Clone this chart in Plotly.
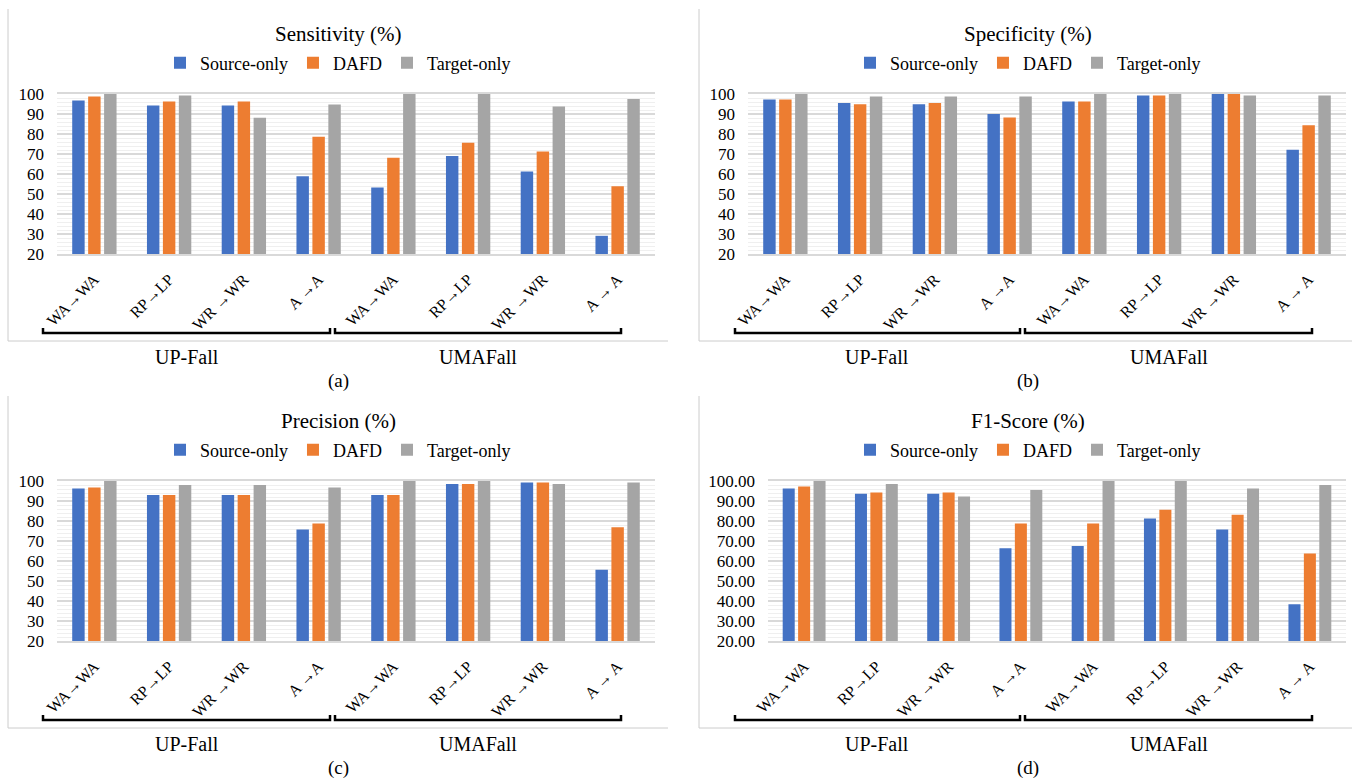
import plotly.graph_objects as go

# ---------------- data ----------------
tick_labels = ["WA→WA", "RP→LP", "WR →WR", "A →A",
               "WA→WA", "RP→LP", "WR →WR", "A → A"]
groups = ["UP-Fall", "UMAFall"]
series_names = ["Source-only", "DAFD", "Target-only"]

sens_source = [96.7, 94.3, 94.3, 58.9, 53.3, 69.0, 61.3, 29.1]
sens_dafd   = [98.7, 96.2, 96.2, 78.6, 68.1, 75.6, 71.3, 53.9]
sens_target = [100.0, 99.2, 88.1, 94.8, 100.0, 100.0, 93.7, 97.5]

spec_source = [97.3, 95.5, 94.9, 90.0, 96.2, 99.2, 100.0, 72.1]
spec_dafd   = [97.3, 94.9, 95.5, 88.2, 96.2, 99.2, 100.0, 84.4]
spec_target = [100.0, 98.7, 98.7, 98.7, 100.0, 100.0, 99.2, 99.2]

prec_source = [96.2, 93.0, 93.0, 75.7, 93.0, 98.5, 99.2, 55.6]
prec_dafd   = [96.8, 93.0, 93.0, 78.7, 93.0, 98.5, 99.2, 76.9]
prec_target = [100.0, 98.0, 98.0, 96.7, 100.0, 100.0, 98.5, 99.2]

f1_source = [96.2, 93.6, 93.6, 66.4, 67.5, 81.3, 75.7, 38.4]
f1_dafd   = [97.3, 94.3, 94.3, 78.7, 78.7, 85.6, 83.1, 63.8]
f1_target = [100.0, 98.5, 92.3, 95.5, 100.0, 100.0, 96.2, 98.0]

titles = ["Sensitivity (%)", "Specificity (%)", "Precision (%)", "F1-Score (%)"]
captions = ["(a)", "(b)", "(c)", "(d)"]
colors = ["#4472C4", "#ED7D31", "#A5A5A5"]

# ---------------- layout helpers ----------------
W, H = 1352, 783
FONT = "Times New Roman, Liberation Serif, Tinos, DejaVu Serif, serif"


def fx(px):
    return min(max(px / W, 0.0), 1.0)


def fy(py):
    return min(max(1 - py / H, 0.0), 1.0)


# panel geometry in pixels
panels = [
    dict(vals=(sens_source, sens_dafd, sens_target), x0=57, x1=655, dy=0,
         center=338, fl=8, fr=668, br=[(43, 330), (335, 621)], gl=[187, 478], fmt=None),
    dict(vals=(spec_source, spec_dafd, spec_target), x0=748, x1=1346, dy=0,
         center=1028, fl=699, fr=1352, br=[(735, 1020), (1025, 1312)], gl=[877, 1169], fmt=None),
    dict(vals=(prec_source, prec_dafd, prec_target), x0=57, x1=655, dy=387,
         center=338, fl=8, fr=668, br=[(43, 330), (335, 621)], gl=[187, 478], fmt=None),
    dict(vals=(f1_source, f1_dafd, f1_target), x0=768, x1=1346, dy=387,
         center=1028, fl=699, fr=1352, br=[(735, 1020), (1025, 1312)], gl=[877, 1169], fmt=".2f"),
]

fig = go.Figure()
xpos = list(range(len(tick_labels)))
shapes = []
annotations = []
layout = {}

for i, p in enumerate(panels):
    n = "" if i == 0 else str(i + 1)
    legend_name = "legend" if i == 0 else f"legend{i + 1}"
    for s, (name, vals) in enumerate(zip(series_names, p["vals"])):
        fig.add_trace(go.Bar(
            x=xpos, y=vals, name=name, marker=dict(color=colors[s], line=dict(width=0)),
            xaxis="x" + n, yaxis="y" + n, legend=legend_name,
        ))
    dy = p["dy"]
    ytop, ybot = 94 + dy, 254 + dy
    layout["xaxis" + n] = dict(
        domain=[fx(p["x0"]), fx(p["x1"])], anchor="y" + n,
        range=[-0.5, len(tick_labels) - 0.5],
        tickmode="array", tickvals=xpos, ticktext=tick_labels,
        tickangle=-45, tickfont=dict(family=FONT, size=16, color="#000"),
        showgrid=False, zeroline=False, showline=True, linecolor="#d9d9d9",
        linewidth=1.5, mirror=True, ticks="", automargin=False,
        ticklabelstandoff=8,
    )
    layout["yaxis" + n] = dict(
        domain=[fy(ybot), fy(ytop)], anchor="x" + n,
        range=[20, 100], dtick=10, tick0=0,
        tickformat=p["fmt"] if p["fmt"] else "d",
        tickfont=dict(family=FONT, size=17, color="#000"),
        showgrid=True, gridcolor="#d9d9d9", gridwidth=1.5,
        minor=dict(dtick=2, showgrid=True, gridcolor="#efefef", gridwidth=1),
        zeroline=False, showline=False, ticks="", ticklabelstandoff=12,
        automargin=False,
    )
    layout[legend_name] = dict(
        orientation="h", x=fx(p["center"]), xanchor="center",
        y=fy(63 + dy), yanchor="middle",
        font=dict(family=FONT, size=18, color="#000"),
        bgcolor="rgba(0,0,0,0)", itemwidth=30, tracegroupgap=0,
    )
    # title
    annotations.append(dict(
        text=titles[i], x=fx(p["center"]), y=fy(34 + dy), xref="paper", yref="paper",
        xanchor="center", yanchor="middle", showarrow=False,
        font=dict(family=FONT, size=21, color="#000"),
    ))
    # caption
    annotations.append(dict(
        text=captions[i], x=fx(p["center"]), y=fy(381 + dy), xref="paper", yref="paper",
        xanchor="center", yanchor="middle", showarrow=False,
        font=dict(family=FONT, size=19, color="#000"),
    ))
    # group labels & brackets
    for g, (a, b) in enumerate(p["br"]):
        yb, yt = 333 + dy, 328 + dy
        shapes.append(dict(
            type="path", xref="paper", yref="paper",
            path=f"M{fx(a)},{fy(yt)} L{fx(a)},{fy(yb)} L{fx(b)},{fy(yb)} L{fx(b)},{fy(yt)}",
            line=dict(color="#000", width=2.5),
        ))
        annotations.append(dict(
            text=groups[g], x=fx(p["gl"][g]), y=fy(357 + dy), xref="paper", yref="paper",
            xanchor="center", yanchor="middle", showarrow=False,
            font=dict(family=FONT, size=20, color="#000"),
        ))
    # frame (left & bottom borders)
    shapes.append(dict(
        type="path", xref="paper", yref="paper",
        path=f"M{fx(p['fl'])},{fy(9 + dy)} L{fx(p['fl'])},{fy(341 + dy)} L{fx(p['fr'])},{fy(341 + dy)}",
        line=dict(color="#cccccc", width=1),
    ))

fig.update_layout(
    width=W, height=H, margin=dict(l=0, r=0, t=0, b=0, autoexpand=False),
    paper_bgcolor="white", plot_bgcolor="white",
    barmode="group", bargap=0.36, bargroupgap=0.22,
    shapes=shapes, annotations=annotations, **layout,
)

# remove the browser's default page margin so the figure fills the window exactly
fig.write_html(
    "out.html",
    config={"displayModeBar": False},
    post_script="document.body.style.margin='0';document.body.style.overflow='hidden';",
)
